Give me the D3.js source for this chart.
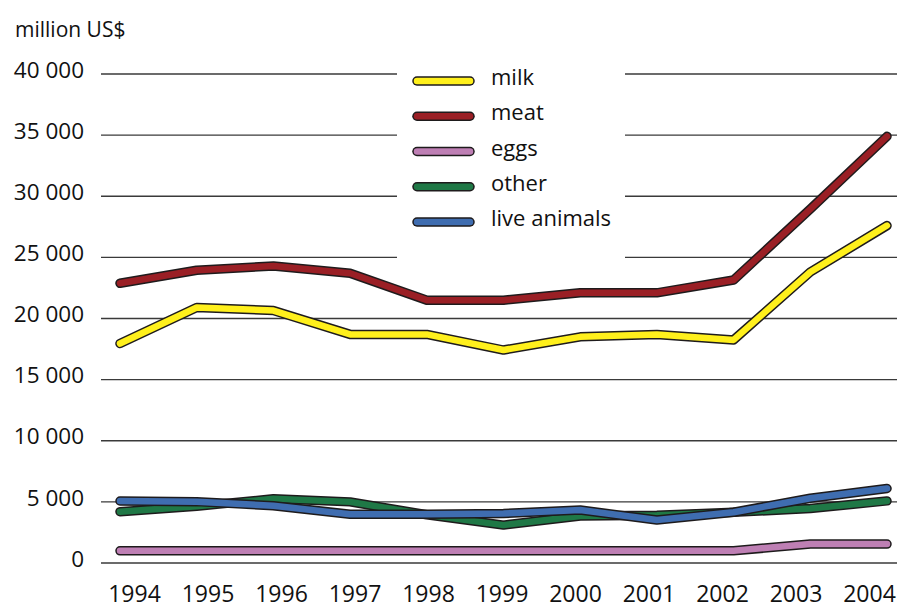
<!DOCTYPE html>
<html>
<head>
<meta charset="utf-8">
<script src="https://cdn.jsdelivr.net/npm/d3@7"></script>
<style>
  html, body { margin: 0; padding: 0; background: #fff; }
  svg { display: block; }
  text { font-family: "Open Sans", "Noto Sans", sans-serif; fill: #111; }
</style>
</head>
<body>
<svg id="chart" width="897" height="610"></svg>
<script>
// Livestock product values, million US$
const years = ["1994","1995","1996","1997","1998","1999","2000","2001","2002","2003","2004"];
const milk = [17950, 20900, 20650, 18700, 18700, 17420, 18500, 18700, 18250, 23800, 27600];
const meat = [22880, 23950, 24300, 23700, 21500, 21500, 22100, 22100, 23150, 28950, 34900];
const eggs = [1000, 1000, 1000, 1000, 1000, 1000, 1000, 1000, 1000, 1550, 1550];
const other = [4200, 4650, 5250, 5000, 3950, 3100, 3850, 3900, 4150, 4450, 5080];
const liveAnimals = [5070, 5020, 4680, 3980, 3980, 4050, 4330, 3520, 4150, 5300, 6100];
const yTicks = [0, 5000, 10000, 15000, 20000, 25000, 30000, 35000, 40000];

const seriesNames = ["milk", "meat", "eggs", "other", "live animals"];
const seriesValues = [milk, meat, eggs, other, liveAnimals];
const seriesColors = ["#fff01c", "#9a1f25", "#be7fb4", "#1f7846", "#3f6db0"];

const svg = d3.select("#chart");
const fmt = v => d3.format(",")(v).replace(/,/g, " ");

const y = d3.scaleLinear().domain([0, 40000]).range([563, 74]);
const xLine = d3.scalePoint().domain(years).range([120, 887]);
const xLabel = d3.scalePoint().domain(years).range([134, 869]);

// horizontal grid lines
svg.append("g")
  .selectAll("line")
  .data(yTicks)
  .join("line")
  .attr("x1", 101).attr("x2", 897)
  .attr("y1", d => y(d)).attr("y2", d => y(d))
  .attr("stroke", "#3a3a3a").attr("stroke-width", 1.3);

// y axis labels
const yAxis = d3.axisLeft(y).tickValues(yTicks).tickFormat(fmt).tickSize(0).tickPadding(0);
svg.append("g")
  .attr("transform", "translate(84,-4)")
  .call(yAxis)
  .call(g => g.select(".domain").remove())
  .call(g => g.selectAll("text").attr("font-size", 22.5).attr("font-family", null).attr("fill", "#111"));

// x axis labels
const xAxis = d3.axisBottom(xLabel).tickSize(0).tickPadding(0);
svg.append("g")
  .attr("transform", "translate(0,586)")
  .call(xAxis)
  .call(g => g.select(".domain").remove())
  .call(g => g.selectAll("text").attr("font-size", 23).attr("font-family", null).attr("fill", "#111"));

// unit label
svg.append("text")
  .attr("x", 15).attr("y", 37)
  .attr("font-size", 21)
  .text("million US$");

// legend background
svg.append("rect")
  .attr("x", 397).attr("y", 56).attr("width", 228).attr("height", 206)
  .attr("fill", "#fff");

// series lines: dark outline under a coloured core
const line = d3.line().x((d, i) => xLine(years[i])).y(d => y(d));
const lines = svg.append("g");
seriesValues.forEach((vals, k) => {
  const g = lines.append("g");
  g.append("path").attr("d", line(vals))
    .attr("fill", "none").attr("stroke", "#1e1b1c").attr("stroke-width", 9.5)
    .attr("stroke-linejoin", "round").attr("stroke-linecap", "round");
  g.append("path").attr("d", line(vals))
    .attr("fill", "none").attr("stroke", seriesColors[k]).attr("stroke-width", 6.5)
    .attr("stroke-linejoin", "round").attr("stroke-linecap", "round");
});

// legend
const legend = svg.append("g");
const ly = d3.scalePoint().domain(seriesNames).range([81, 222]);
seriesNames.forEach((name, k) => {
  const yy = ly(name);
  legend.append("line").attr("x1", 417).attr("x2", 470).attr("y1", yy).attr("y2", yy)
    .attr("stroke", "#1e1b1c").attr("stroke-width", 9.5).attr("stroke-linecap", "round");
  legend.append("line").attr("x1", 417).attr("x2", 470).attr("y1", yy).attr("y2", yy)
    .attr("stroke", seriesColors[k]).attr("stroke-width", 6.5).attr("stroke-linecap", "round");
  legend.append("text").attr("x", 491).attr("y", yy + 4)
    .attr("font-size", 22).text(name);
});
</script>
</body>
</html>
